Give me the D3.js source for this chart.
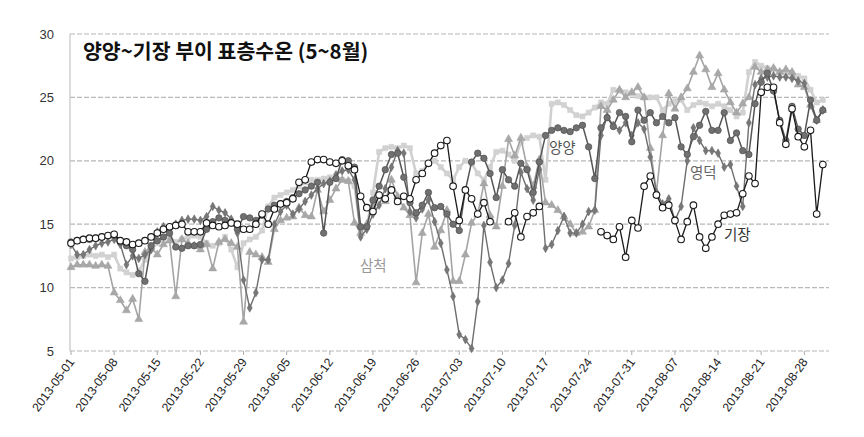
<!DOCTYPE html>
<html><head><meta charset="utf-8">
<script src="https://cdn.jsdelivr.net/npm/d3@7"></script>
<style>
html,body{margin:0;padding:0;background:#fff;}
svg text{font-family:"Liberation Sans",Arial,sans-serif;}
</style></head>
<body><svg id="c" width="864" height="437"></svg>
<script>
// ---- data ----
const startDate = "2013-05-01";
const endDate = "2013-08-31";
const tickLabels = ["2013-05-01","2013-05-08","2013-05-15","2013-05-22","2013-05-29","2013-06-05","2013-06-12","2013-06-19","2013-06-26","2013-07-03","2013-07-10","2013-07-17","2013-07-24","2013-07-31","2013-08-07","2013-08-14","2013-08-21","2013-08-28"];
const yTicks = [5,10,15,20,25,30];
const title = "양양~기장 부이 표층수온 (5~8월)";

const gijang = [13.5,13.7,13.8,13.9,13.9,14.0,14.1,14.2,13.7,13.6,
 13.4,13.5,13.7,14.0,14.3,14.6,14.8,14.9,15.0,14.4,
 14.4,14.4,15.1,14.9,14.8,14.9,15.1,15.0,14.6,14.6,
 15.0,15.8,15.0,16.2,16.6,16.7,17.0,18.3,18.5,19.9,
 20.1,20.1,19.9,19.8,20.0,19.6,19.3,17.2,16.3,16.0,
 17.3,17.0,17.7,16.8,17.2,17.0,18.5,19.0,19.8,20.6,
 21.2,21.6,18.0,15.3,17.7,17.0,15.8,16.7,15.2,null,
 null,15.2,15.9,14.0,15.6,15.9,16.4,null,null,null,
 null,null,null,null,null,null,14.4,14.1,13.8,14.8,
 12.4,15.3,14.7,18.0,18.8,17.3,16.3,16.5,15.3,13.8,
 15.2,16.5,14.0,13.1,14.0,15.0,15.7,15.8,15.9,17.4,
 18.8,18.2,25.4,25.8,25.8,23.0,21.3,24.1,21.9,21.1,
 22.4,15.8,19.7];

const yangyang = [13.6,13.7,13.8,13.8,13.9,14.0,14.1,14.1,13.6,13.3,
 13.0,11.1,10.5,13.3,13.7,14.0,14.3,13.2,13.1,13.3,
 13.3,13.4,14.6,15.2,15.5,15.3,15.1,14.6,15.6,15.5,
 15.3,15.7,16.2,16.5,16.6,16.8,17.1,17.4,17.7,18.0,
 18.3,14.3,18.3,18.6,20.1,20.0,19.5,14.8,14.8,16.9,
 18.0,19.3,20.5,20.6,18.7,16.7,15.9,16.5,17.5,16.3,
 16.4,15.8,15.0,14.5,17.7,19.9,20.6,20.2,19.0,17.1,
 19.3,18.5,18.0,19.8,19.3,17.5,19.9,22.0,22.4,22.6,
 22.4,22.3,22.6,22.8,21.1,18.6,22.6,23.4,22.7,23.8,
 23.5,21.5,24.0,23.2,23.8,23.0,23.5,23.0,23.4,21.1,
 20.5,21.9,22.8,23.9,22.4,22.4,23.8,21.6,22.2,20.8,
 20.5,24.5,26.2,26.9,25.5,23.2,21.6,24.3,22.5,22.0,
 24.8,23.2,24.0];

const yeongdeok = [13.4,12.6,12.6,13.0,13.3,13.5,13.6,13.8,13.4,11.8,
 12.5,12.3,12.6,13.0,14.4,14.8,14.6,15.0,15.3,15.4,
 15.4,15.3,15.6,16.4,16.1,15.9,15.4,14.3,10.6,8.4,
 9.6,12.2,12.2,15.0,16.0,16.5,15.8,16.2,16.8,17.3,
 17.8,18.2,18.4,18.9,19.2,19.3,18.5,14.0,14.6,15.8,
 16.5,17.8,19.5,20.8,20.6,16.0,15.5,16.2,16.9,15.2,
 13.5,11.4,9.3,6.3,5.9,5.2,8.9,14.9,12.0,10.0,
 10.6,11.9,14.9,19.1,17.8,16.9,19.3,13.1,13.4,14.5,
 15.6,14.3,14.3,15.0,16.0,16.1,22.0,23.5,22.8,22.4,
 23.0,22.0,23.0,22.5,20.3,17.5,16.6,17.0,15.3,16.4,
 20.0,22.6,21.6,20.8,20.8,20.6,19.5,19.7,18.0,16.4,
 23.0,26.0,26.5,26.6,26.7,26.6,26.6,26.5,26.3,26.1,
 24.4,23.2,24.0];

const samcheok = [11.6,11.8,11.8,11.8,11.7,11.8,11.7,9.6,9.0,8.2,
 9.1,7.5,12.8,13.2,12.6,13.4,13.7,9.3,13.8,13.5,
 13.3,13.0,13.4,11.5,13.6,13.8,13.5,13.2,7.3,12.8,
 12.6,12.4,12.0,14.6,15.3,15.5,15.6,16.3,15.7,15.6,
 17.7,16.0,16.9,17.8,18.5,18.4,15.1,14.3,15.0,16.4,
 17.2,16.8,18.5,17.2,16.3,15.7,10.4,14.3,15.8,13.2,
 14.5,16.1,10.5,10.5,12.6,15.1,15.8,18.2,15.7,14.8,
 18.0,21.7,20.4,21.8,19.5,18.0,20.1,16.7,16.5,16.1,
 15.6,15.0,14.3,14.4,14.8,16.1,24.3,24.0,24.8,25.6,
 25.0,25.4,25.8,25.0,21.0,17.5,22.0,25.3,24.1,25.0,
 25.7,27.0,28.3,27.2,25.8,26.9,25.6,24.6,23.8,24.5,
 25.0,27.4,27.0,27.2,27.3,27.0,27.2,27.0,26.0,25.8,
 24.4,23.2,24.0];

const buoyE = [12.3,12.4,12.5,12.6,12.5,12.6,12.4,12.6,11.5,11.2,
 11.0,11.3,12.2,13.0,13.5,13.8,14.0,13.6,13.8,14.0,
 14.1,14.0,13.5,13.3,13.5,14.0,13.0,11.6,13.5,13.8,
 14.0,14.5,16.4,17.1,17.3,17.5,17.7,18.0,18.3,18.5,
 18.5,18.6,18.7,18.6,18.5,18.4,18.0,14.5,14.8,17.5,
 20.7,21.0,21.1,21.0,21.2,21.0,19.0,19.2,19.8,20.0,
 19.5,19.0,18.5,19.5,20.0,19.8,19.0,18.5,19.5,20.7,
 20.8,20.5,20.0,21.5,21.8,22.0,21.9,18.5,24.5,24.6,
 24.4,24.0,23.6,23.5,23.8,24.2,24.6,24.5,25.6,25.5,
 25.4,25.3,25.1,25.0,25.0,25.0,24.0,24.5,24.7,24.8,
 24.0,24.4,24.6,24.5,24.3,24.5,24.3,24.0,23.5,23.8,
 27.0,27.8,27.5,27.3,27.2,27.0,26.9,26.8,26.7,26.5,
 25.6,24.6,24.8];

// ---- chart ----
const parse = d3.utcParse("%Y-%m-%d");
const dates = d3.utcDay.range(parse(startDate), d3.utcDay.offset(parse(endDate), 1));
const svg = d3.select("#c");
const x = d3.scaleUtc().domain([parse(startDate), d3.utcDay.offset(parse(endDate),1)]).range([71, 829]);
const y = d3.scaleLinear().domain([5, 30]).range([351, 34]);

// grid
svg.append("g").selectAll("line").data(yTicks).join("line")
  .attr("x1", 70).attr("x2", 829).attr("y1", d => y(d)).attr("y2", d => y(d))
  .attr("stroke", "#b8b8b8").attr("stroke-width", 1.2).attr("stroke-dasharray", "5,2");
svg.append("line").attr("x1",70).attr("x2",70).attr("y1",y(30)).attr("y2",y(5))
  .attr("stroke","#c4c4c4").attr("stroke-width",1.2);

// y labels
svg.append("g").selectAll("text").data(yTicks).join("text")
  .attr("x", 54).attr("y", d => y(d) + 4.5).attr("text-anchor","end")
  .attr("font-size", 13).attr("fill","#333").text(d => d);

// x ticks
const tickDates = tickLabels.map(parse);
svg.append("g").selectAll("line").data(tickDates).join("line")
  .attr("x1", d=>x(d)).attr("x2", d=>x(d)).attr("y1", 351).attr("y2", 355)
  .attr("stroke","#aaa");
svg.append("g").selectAll("text").data(tickLabels).join("text")
  .attr("transform", d => `translate(${x(parse(d))+4},${362}) rotate(-54)`)
  .attr("text-anchor","end").attr("font-size", 12.2).attr("fill","#222").text(d => d);

// series
function drawSeries(vals, opt){
  const pts = vals.map((v,i)=>({d:dates[i], v}));
  const line = d3.line().defined(p=>p.v!==null).x(p=>x(p.d)).y(p=>y(p.v));
  const g = svg.append("g");
  g.append("path").datum(pts).attr("d", line).attr("fill","none")
    .attr("stroke", opt.stroke).attr("stroke-width", opt.sw).attr("stroke-linejoin","round");
  const valid = pts.filter(p=>p.v!==null);
  if (opt.shape === "circle") {
    g.selectAll("circle").data(valid).join("circle")
      .attr("cx", p=>x(p.d)).attr("cy", p=>y(p.v)).attr("r", opt.r)
      .attr("fill", opt.fill).attr("stroke", opt.mstroke).attr("stroke-width", opt.msw);
  } else {
    const sym = d3.symbol().type(opt.shape).size(opt.size);
    g.selectAll("path.m").data(valid).join("path").attr("class","m")
      .attr("transform", p=>`translate(${x(p.d)},${y(p.v)})`).attr("d", sym)
      .attr("fill", opt.fill).attr("stroke", opt.mstroke).attr("stroke-width", opt.msw);
  }
}
drawSeries(buoyE, {stroke:"#d0d0d0", sw:2.6, shape:d3.symbolSquare, size:26, fill:"#d2d2d2", mstroke:"#cfcfcf", msw:0.5});
drawSeries(samcheok, {stroke:"#a4a4a4", sw:1.6, shape:d3.symbolTriangle, size:28, fill:"#a8a8a8", mstroke:"#a0a0a0", msw:0.5});
drawSeries(yeongdeok, {stroke:"#6e6e6e", sw:1.4, shape:d3.symbolDiamond, size:22, fill:"#777", mstroke:"#6a6a6a", msw:0.5});
drawSeries(yangyang, {stroke:"#555", sw:1.5, shape:"circle", r:3.2, fill:"#707070", mstroke:"#555", msw:0.8});
drawSeries(gijang, {stroke:"#1a1a1a", sw:1.3, shape:"circle", r:3.3, fill:"#fff", mstroke:"#1a1a1a", msw:1.1});

// labels
const kfont = "'Noto Sans CJK KR','Noto Sans',sans-serif";
svg.append("text").attr("x", 83).attr("y", 59).attr("font-size", 20.5).attr("font-weight","bold")
  .attr("fill","#111").style("font-family", kfont).text(title);
const seriesLabels = [
  {t:"양양", x:549, y:153, c:"#555"},
  {t:"영덕", x:690, y:178, c:"#666"},
  {t:"기장", x:724, y:240, c:"#333"},
  {t:"삼척", x:360, y:271, c:"#999"}
];
svg.append("g").selectAll("text").data(seriesLabels).join("text")
  .attr("x", d=>d.x).attr("y", d=>d.y).attr("font-size", 14.5).attr("fill", d=>d.c)
  .style("font-family", kfont).text(d=>d.t);
</script></body></html>
